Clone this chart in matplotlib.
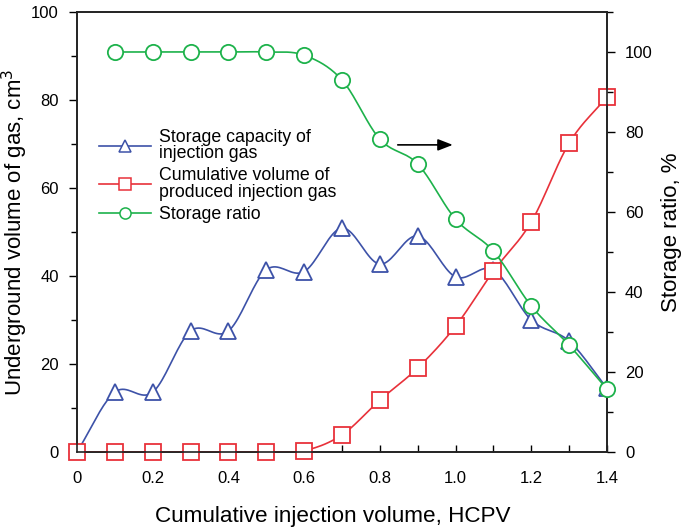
import numpy as np
import matplotlib
matplotlib.use("Agg")
import matplotlib.pyplot as plt
from matplotlib.lines import Line2D
from matplotlib.ticker import MultipleLocator

plt.rcParams['font.family'] = ['Liberation Sans', 'DejaVu Sans']

x = [0.0, 0.1, 0.2, 0.3, 0.4, 0.5, 0.6, 0.7, 0.8, 0.9, 1.0, 1.1, 1.2, 1.3, 1.4]
storage_capacity = [0.0, 13.6, 13.6, 27.5, 27.5, 41.4, 41.0, 50.9, 42.7, 49.1, 39.8, 41.4, 30.0, 25.2, 14.5]
cumulative_produced = [0.0, 0.0, 0.0, 0.0, 0.0, 0.0, 0.3, 3.9, 11.8, 19.1, 28.6, 41.1, 52.3, 70.2, 80.7]
ratio_x = [0.1, 0.2, 0.3, 0.4, 0.5, 0.6, 0.7, 0.8, 0.9, 1.0, 1.1, 1.2, 1.3, 1.4]
storage_ratio = [100.0, 100.0, 100.0, 100.0, 100.0, 99.2, 93.0, 78.2, 72.0, 58.2, 50.2, 36.5, 26.7, 15.7]

BLUE = '#3d52a8'
RED = '#e8313a'
GREEN = '#1db24b'


def smooth(xs, ys, n=20):
    xs = np.asarray(xs, float)
    ys = np.asarray(ys, float)
    px = np.concatenate([[2 * xs[0] - xs[1]], xs, [2 * xs[-1] - xs[-2]]])
    py = np.concatenate([[2 * ys[0] - ys[1]], ys, [2 * ys[-1] - ys[-2]]])
    ox, oy = [], []
    t = np.linspace(0, 1, n, endpoint=False)
    for i in range(1, len(px) - 2):
        for arr, out in ((px, ox), (py, oy)):
            p0, p1, p2, p3 = arr[i - 1], arr[i], arr[i + 1], arr[i + 2]
            out.extend(0.5 * ((2 * p1) + (-p0 + p2) * t + (2 * p0 - 5 * p1 + 4 * p2 - p3) * t ** 2
                              + (-p0 + 3 * p1 - 3 * p2 + p3) * t ** 3))
    ox.append(xs[-1])
    oy.append(ys[-1])
    return np.array(ox), np.array(oy)


fig = plt.figure(figsize=(6.85, 5.32), dpi=100)
ax = fig.add_axes([77 / 685, 1 - 452 / 532, (607 - 77) / 685, (452 - 12) / 532])
ax2 = ax.twinx()

lw = 1.2
ms = 11
mew = 1.3

sx, sy = smooth(x, storage_capacity)
ax.plot(sx, sy, color=BLUE, lw=lw, zorder=3)
ax.plot(x, storage_capacity, ls='none', marker='^', ms=ms, mfc='white', mec=BLUE, mew=mew, zorder=4)

sx, sy = smooth(x, cumulative_produced)
ax.plot(sx, sy, color=RED, lw=lw, zorder=3)
ax.plot(x, cumulative_produced, ls='none', marker='s', ms=ms, mfc='white', mec=RED, mew=mew, zorder=4, clip_on=False)

sx, sy = smooth(ratio_x, storage_ratio)
ax2.plot(sx, sy, color=GREEN, lw=lw, zorder=3)
ax2.plot(ratio_x, storage_ratio, ls='none', marker='o', ms=ms, mfc='white', mec=GREEN, mew=mew, zorder=4, clip_on=False)

ax.set_xlim(0, 1.4)
ax.set_ylim(0, 100)
ax2.set_ylim(0, 110)

ax.xaxis.set_minor_locator(MultipleLocator(0.1))
ax.set_xticks([0, 0.2, 0.4, 0.6, 0.8, 1.0, 1.2, 1.4])
ax.set_xticklabels(['0', '0.2', '0.4', '0.6', '0.8', '1.0', '1.2', '1.4'])
ax.yaxis.set_major_locator(MultipleLocator(20))
ax.yaxis.set_minor_locator(MultipleLocator(10))
ax2.set_yticks([0, 20, 40, 60, 80, 100])
ax2.yaxis.set_minor_locator(MultipleLocator(10))

ax.tick_params(axis='x', which='both', direction='in', length=5, width=1, labelsize=12, pad=14)
ax.tick_params(axis='y', which='major', direction='out', length=6, width=1, labelsize=12, pad=7)
ax.tick_params(axis='y', which='minor', direction='out', length=4, width=1)
ax2.tick_params(axis='y', which='major', direction='out', length=6, width=1, labelsize=12, pad=7)
ax2.tick_params(axis='y', which='minor', direction='out', length=4, width=1)

for a in (ax, ax2):
    for s in a.spines.values():
        s.set_linewidth(1.2)
        s.set_color('#222222')

ax.set_xlabel('Cumulative injection volume, HCPV', fontsize=16.2, labelpad=14)
ax.xaxis.label.set_x(0.483)
ax.set_ylabel('Underground volume of gas, cm$^3$', fontsize=16, labelpad=1)
ax2.set_ylabel('Storage ratio, %', fontsize=16, labelpad=6)

ax.annotate('', xy=(1.0, 69.8), xytext=(0.84, 69.8),
            arrowprops=dict(arrowstyle='-|>,head_length=0.9,head_width=0.35', color='black', lw=1.2))

handles = [
    Line2D([], [], color=BLUE, lw=lw, marker='^', ms=8, mfc='white', mec=BLUE, mew=1.1),
    Line2D([], [], color=RED, lw=lw, marker='s', ms=8, mfc='white', mec=RED, mew=1.1),
    Line2D([], [], color=GREEN, lw=lw, marker='o', ms=8, mfc='white', mec=GREEN, mew=1.1),
]
labels = ['Storage capacity of\ninjection gas', 'Cumulative volume of\nproduced injection gas', 'Storage ratio']
leg = ax.legend(handles, labels, loc='upper left', bbox_to_anchor=(0.028, 0.751), frameon=False,
                fontsize=12.8, handlelength=2.9, handletextpad=0.45, labelspacing=0.3,
                borderaxespad=0)
for t in leg.get_texts():
    t.set_linespacing(0.95)

fig.savefig('out.png', dpi=100)
